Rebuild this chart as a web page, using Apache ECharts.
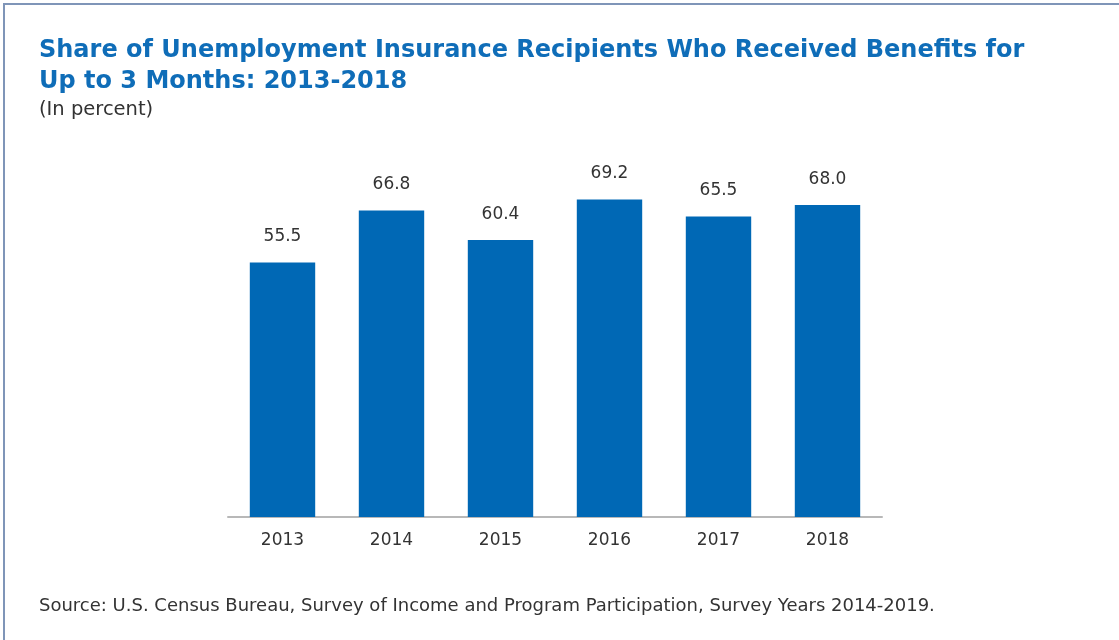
<!DOCTYPE html>
<html>
<head>
<meta charset="utf-8">
<script src="https://cdn.jsdelivr.net/npm/echarts@6/dist/echarts.min.js"></script>
<style>
html, body { margin: 0; padding: 0; background: #fff; }
.frame {
    position: absolute;
    left: 3px;
    top: 3px;
    width: 1200px;
    height: 700px;
    border-left: 2px solid #7f95b8;
    border-top: 2px solid #7f95b8;
}
#chart { position: absolute; left: 0; top: 0; width: 1119px; height: 640px; }
</style>
</head>
<body>
<div class="frame"></div>
<div id="chart"></div>
<script>
// data
const years = ['2013', '2014', '2015', '2016', '2017', '2018'];
const shares = [55.5, 66.8, 60.4, 69.2, 65.5, 68.0];

const blue = '#0068b5';
const textColor = '#333333';
const font = 'DejaVu Sans';

const myChart = echarts.init(document.getElementById('chart'), null, { renderer: 'canvas' });

const option = {
    backgroundColor: 'transparent',
    title: [
        {
            text: 'Share of Unemployment Insurance Recipients Who Received Benefits for\nUp to 3 Months: 2013-2018',
            left: 34,
            top: 30,
            textStyle: {
                fontFamily: font,
                fontWeight: 'bold',
                fontSize: 24,
                lineHeight: 31,
                color: '#0f6db8'
            }
        },
        {
            text: '(In percent)',
            left: 34,
            top: 95,
            textStyle: {
                fontFamily: font,
                fontWeight: 'normal',
                fontSize: 19.5,
                color: textColor
            }
        },
        {
            text: 'Source: U.S. Census Bureau, Survey of Income and Program Participation, Survey Years 2014-2019.',
            left: 34,
            top: 592,
            textStyle: {
                fontFamily: font,
                fontWeight: 'normal',
                fontSize: 18,
                color: textColor
            }
        }
    ],
    grid: {
        left: 228,
        right: 1119 - 882,
        top: 150,
        bottom: 640 - 517,
        containLabel: false
    },
    xAxis: {
        type: 'category',
        data: years,
        axisLine: { lineStyle: { color: '#b8b8b8', width: 2 } },
        axisTick: { show: false },
        axisLabel: {
            margin: 15,
            fontFamily: font,
            fontSize: 17,
            color: textColor
        }
    },
    yAxis: {
        type: 'value',
        min: 0,
        max: 80,
        show: false
    },
    series: [{
        type: 'bar',
        data: shares,
        barWidth: '60%',
        itemStyle: { color: blue },
        label: {
            show: true,
            position: 'top',
            distance: 17,
            formatter: p => p.value.toFixed(1),
            fontFamily: font,
            fontSize: 17,
            color: textColor
        }
    }]
};

myChart.setOption(option);
</script>
</body>
</html>
